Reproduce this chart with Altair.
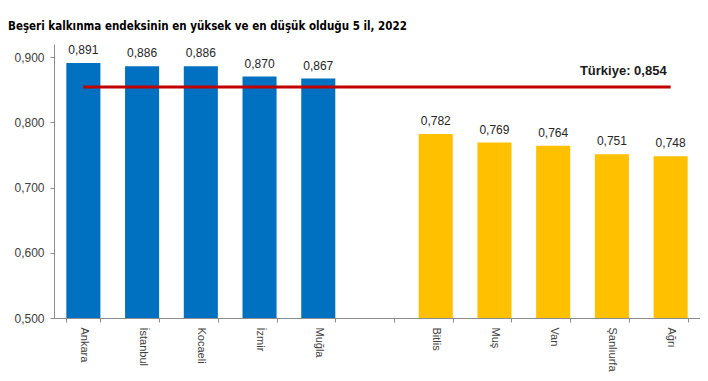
import altair as alt
import pandas as pd

cats = ["Ankara", "İstanbul", "Kocaeli", "İzmir", "Muğla", "Bitlis", "Muş", "Van", "Şanlıurfa", "Ağrı"]
values = [0.891, 0.886, 0.886, 0.870, 0.867, 0.782, 0.769, 0.764, 0.751, 0.748]
groups = ["high"] * 5 + ["low"] * 5
domain_x = cats[:5] + [" "] + cats[5:]
turkiye = 0.854
title_text = "Beşeri kalkınma endeksinin en yüksek ve en düşük olduğu 5 il, 2022"

df = pd.DataFrame({"il": cats, "value": values, "group": groups})
df["label"] = [f"{v:.3f}".replace(".", ",") for v in values]
ref = pd.DataFrame({"start": [cats[0]], "end": [cats[-1]], "value": [turkiye],
                    "label": [f"Türkiye: {turkiye:.3f}".replace(".", ",")]})

xscale = alt.Scale(domain=domain_x, paddingInner=0.42, paddingOuter=0.21)
yscale = alt.Scale(domain=[0.5, 0.92], nice=False, zero=False)

x = alt.X("il:N", scale=xscale, sort=domain_x, title=None,
          axis=alt.Axis(labelAngle=90, labelAlign="left", labelBaseline="middle",
                        tickBand="extent", tickSize=4, labelPadding=5,
                        domainColor="#8c8c8c", tickColor="#8c8c8c",
                        labelColor="#404040", labelFontSize=11,
                        labelFont="Liberation Sans"))
y = alt.Y("value:Q", scale=yscale, title=None,
          axis=alt.Axis(values=[0.5, 0.6, 0.7, 0.8, 0.9],
                        labelExpr="replace(format(datum.value, '.3f'), '.', ',')",
                        grid=False, tickSize=4, labelPadding=6,
                        domainColor="#8c8c8c", tickColor="#8c8c8c",
                        labelColor="#404040", labelFontSize=12,
                        labelFont="Liberation Sans"))

bars = alt.Chart(df).mark_bar().encode(
    x=x, y=y, y2=alt.datum(0.5),
    color=alt.Color("group:N", scale=alt.Scale(domain=["high", "low"], range=["#0070C0", "#FFC000"]), legend=None),
)
vals = alt.Chart(df).mark_text(baseline="bottom", dy=-6, fontSize=12, font="Liberation Sans", color="#262626").encode(
    x=alt.X("il:N", scale=xscale, sort=domain_x), y=alt.Y("value:Q", scale=yscale), text="label:N")

rule = alt.Chart(ref).mark_rule(color="#C00000", strokeWidth=3).encode(
    x=alt.X("start:N", scale=xscale), x2="end:N", y=alt.Y("value:Q", scale=yscale))
reftext = alt.Chart(ref).mark_text(align="right", baseline="bottom", dx=-4, dy=-9, fontSize=13,
                                   fontWeight="bold", font="Liberation Sans", color="#1a1a1a").encode(
    x=alt.X("end:N", scale=xscale), y=alt.Y("value:Q", scale=yscale), text="label:N")

chart = alt.layer(bars, vals, rule, reftext).properties(
    width=646, height=274,
    autosize=alt.AutoSizeParams(type="none"),
    padding={"left": 46, "top": 36, "right": 0, "bottom": 55},
    title=alt.Title(title_text, anchor="start", frame="group", dx=-46, offset=2, baseline="alphabetic",
                    font="DejaVu Sans Condensed", fontSize=11.5, fontWeight="bold", color="#000000"),
).configure_view(stroke=None)

chart.save("out.html", embed_options={"renderer": "svg", "actions": False})
